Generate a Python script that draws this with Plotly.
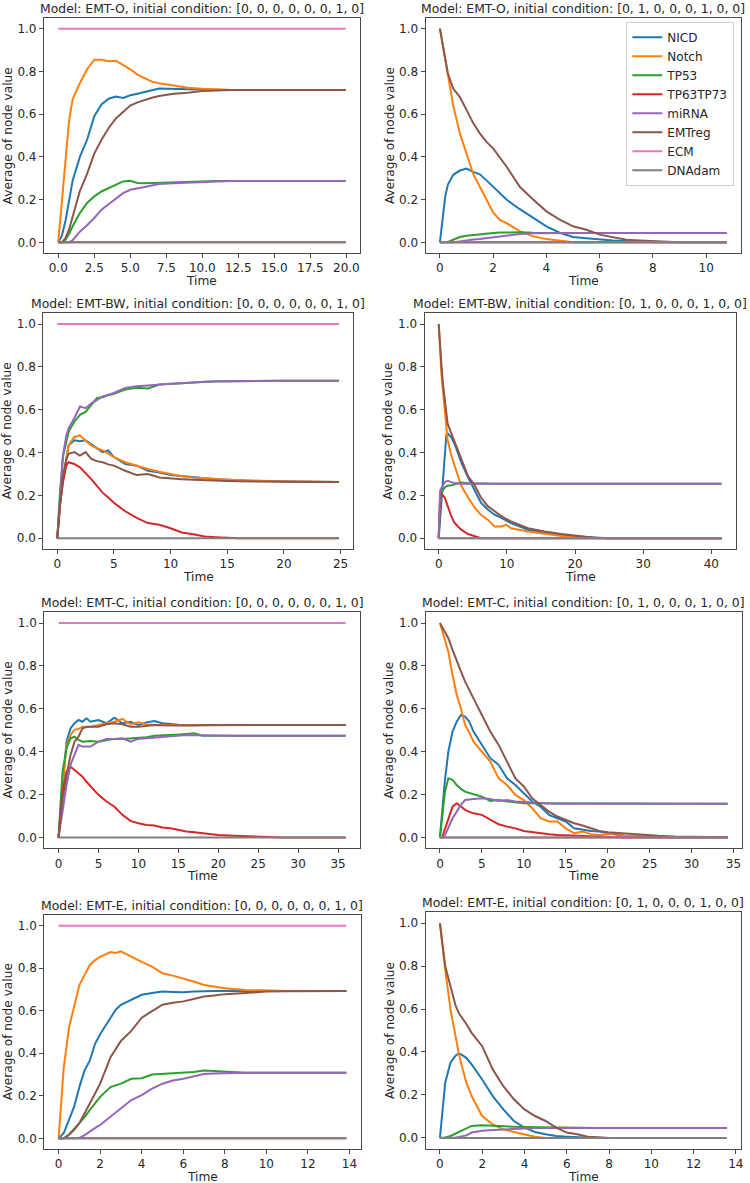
import plotly.graph_objects as go

W, H = 750, 1183

NODES = ['NICD', 'Notch', 'TP53', 'TP63TP73', 'miRNA', 'EMTreg', 'ECM', 'DNAdam']
COLORS = ['#1f77b4', '#ff7f0e', '#2ca02c', '#d62728', '#9467bd', '#8c564b', '#e377c2', '#7f7f7f']

MODELS = ['EMT-O', 'EMT-O', 'EMT-BW', 'EMT-BW', 'EMT-C', 'EMT-C', 'EMT-E', 'EMT-E']
CONDITIONS = ['[0, 0, 0, 0, 0, 0, 1, 0]', '[0, 1, 0, 0, 0, 1, 0, 0]'] * 4
X_DTICK = [2.5, 2, 5, 10, 5, 5, 2, 2]
X_FMT = ['.1f', 'd', 'd', 'd', 'd', 'd', 'd', 'd']

# flat lines (two end points)
FLAT_ONE = [1.0, 1.0]
FLAT_ZERO = [0.0, 0.0]

# ---- EMT-O, ECM on
T1 = [0, 0.25, 0.5, 0.75, 1, 1.5, 2, 2.5, 3, 3.5, 4, 4.5, 5, 5.5, 6, 6.5, 7, 8, 9, 10, 11, 12, 14, 16, 19.95]
P1_NICD = [0, 0.03, 0.10, 0.20, 0.29, 0.40, 0.48, 0.59, 0.645, 0.672, 0.682, 0.676, 0.688, 0.695, 0.705, 0.712, 0.72,
           0.717, 0.717, 0.715, 0.713, 0.713, 0.713, 0.713, 0.713]
P1_NOTCH = [0, 0.19, 0.40, 0.57, 0.67, 0.745, 0.81, 0.855, 0.854, 0.848, 0.85, 0.83, 0.81, 0.785, 0.77, 0.752, 0.745,
            0.733, 0.724, 0.719, 0.716, 0.713, 0.713, 0.713, 0.713]
P1_TP53 = [0, 0, 0.012, 0.04, 0.075, 0.137, 0.184, 0.215, 0.238, 0.254, 0.27, 0.285, 0.288, 0.278, 0.277, 0.278, 0.282,
           0.283, 0.286, 0.287, 0.287, 0.287, 0.287, 0.287, 0.287]
P1_MIRNA = [0, 0, 0, 0, 0.01, 0.05, 0.08, 0.114, 0.153, 0.18, 0.207, 0.23, 0.246, 0.254, 0.259, 0.266, 0.273, 0.277,
            0.28, 0.283, 0.285, 0.287, 0.287, 0.287, 0.287]
P1_EMTREG = [0, 0, 0.02, 0.06, 0.12, 0.24, 0.32, 0.415, 0.48, 0.535, 0.58, 0.61, 0.64, 0.655, 0.667, 0.677, 0.685, 0.695,
             0.70, 0.708, 0.711, 0.713, 0.713, 0.713, 0.713]

# ---- EMT-O, Notch + EMTreg on
T2 = [0, 0.1, 0.2, 0.3, 0.5, 0.75, 1, 1.25, 1.5, 1.75, 2, 2.25, 2.5, 3, 3.5, 4, 4.5, 5, 5.5, 6, 6.5, 7, 7.5, 8, 8.5, 9,
      10.77]
P2_NICD = [0, 0.12, 0.215, 0.27, 0.316, 0.336, 0.345, 0.33, 0.318, 0.29, 0.26, 0.23, 0.20, 0.155, 0.115, 0.075, 0.045,
           0.025, 0.019, 0.012, 0.008, 0.005, 0.003, 0, 0, 0, 0]
P2_NOTCH = [1.0, 0.93, 0.86, 0.78, 0.64, 0.51, 0.42, 0.32, 0.26, 0.20, 0.14, 0.105, 0.09, 0.052, 0.028, 0.015, 0.006,
            0, 0, 0, 0, 0, 0, 0, 0, 0, 0]
P2_TP53 = [0, 0, 0, 0.002, 0.012, 0.025, 0.031, 0.035, 0.039, 0.041, 0.044, 0.046, 0.047, 0.047, 0.045, 0.044, 0.044,
           0.044, 0.044, 0.044, 0.044, 0.044, 0.044, 0.044, 0.044, 0.044, 0.044]
P2_MIRNA = [0, 0, 0, 0, 0, 0.004, 0.01, 0.013, 0.016, 0.02, 0.025, 0.028, 0.031, 0.039, 0.043, 0.044, 0.044, 0.044,
            0.044, 0.044, 0.044, 0.044, 0.044, 0.044, 0.044, 0.044, 0.044]
P2_EMTREG = [1.0, 0.93, 0.86, 0.79, 0.72, 0.68, 0.62, 0.558, 0.51, 0.47, 0.44, 0.40, 0.355, 0.26, 0.20, 0.145, 0.106,
             0.075, 0.059, 0.036, 0.023, 0.012, 0.009, 0.005, 0.001, 0, 0]

# ---- EMT-BW, ECM on
T3 = [0, 0.25, 0.5, 0.8, 1, 1.5, 2, 2.5, 3, 3.5, 4, 4.5, 5, 6, 7, 8, 9, 10, 11, 12, 13, 14, 15, 16, 18, 20, 24.86]
P3_NICD = [0, 0.16, 0.27, 0.38, 0.434, 0.457, 0.453, 0.457, 0.44, 0.42, 0.402, 0.41, 0.379, 0.347, 0.339, 0.315, 0.307,
           0.295, 0.29, 0.284, 0.28, 0.276, 0.273, 0.27, 0.267, 0.265, 0.263]
P3_NOTCH = [0, 0.16, 0.276, 0.38, 0.434, 0.473, 0.48, 0.455, 0.434, 0.42, 0.41, 0.395, 0.379, 0.355, 0.339, 0.323, 0.311,
            0.30, 0.29, 0.284, 0.28, 0.276, 0.273, 0.271, 0.268, 0.265, 0.263]
P3_TP53 = [0, 0.22, 0.38, 0.46, 0.497, 0.544, 0.576, 0.59, 0.623, 0.655, 0.658, 0.668, 0.674, 0.694, 0.702, 0.699, 0.718,
           0.721, 0.725, 0.73, 0.731, 0.733, 0.733, 0.734, 0.735, 0.735, 0.735]
P3_TP63 = [0, 0.16, 0.26, 0.34, 0.355, 0.347, 0.331, 0.305, 0.276, 0.245, 0.213, 0.19, 0.166, 0.126, 0.095, 0.071, 0.063,
           0.047, 0.027, 0.019, 0.008, 0.005, 0.002, 0, 0, 0, 0]
P3_MIRNA = [0, 0.22, 0.386, 0.48, 0.513, 0.56, 0.615, 0.607, 0.63, 0.645, 0.662, 0.67, 0.678, 0.702, 0.71, 0.713, 0.718,
            0.721, 0.724, 0.729, 0.731, 0.732, 0.733, 0.733, 0.734, 0.735, 0.735]
P3_EMTREG = [0, 0.17, 0.29, 0.37, 0.394, 0.402, 0.386, 0.402, 0.37, 0.36, 0.355, 0.345, 0.339, 0.315, 0.295, 0.30, 0.284,
             0.279, 0.276, 0.273, 0.27, 0.268, 0.267, 0.266, 0.265, 0.264, 0.263]

# ---- EMT-BW, Notch + EMTreg on
T4 = [0, 0.2, 0.4, 0.63, 0.88, 1.12, 1.3, 1.85, 2.34, 3.3, 4.3, 5.3, 6.2, 7.2, 8.2, 9.2, 9.9, 10.6, 13.1, 15.5, 18,
      20.4, 22.8, 25, 30, 41.5]
P4_NICD = [0, 0.086, 0.17, 0.27, 0.38, 0.484, 0.49, 0.47, 0.44, 0.355, 0.284, 0.22, 0.166, 0.134, 0.11, 0.095, 0.083,
           0.071, 0.04, 0.027, 0.016, 0.008, 0.002, 0, 0, 0]
P4_NOTCH = [1.0, 0.86, 0.765, 0.686, 0.607, 0.52, 0.46, 0.386, 0.34, 0.245, 0.19, 0.142, 0.11, 0.087, 0.055, 0.055,
            0.063, 0.047, 0.032, 0.02, 0.011, 0.003, 0, 0, 0, 0]
P4_TP53 = [0, 0.15, 0.213, 0.225, 0.237, 0.242, 0.245, 0.248, 0.252, 0.26, 0.257, 0.256, 0.255, 0.255, 0.255, 0.255,
           0.255, 0.255, 0.255, 0.255, 0.255, 0.255, 0.255, 0.255, 0.255, 0.255]
P4_TP63 = [0, 0.19, 0.205, 0.20, 0.19, 0.168, 0.15, 0.103, 0.071, 0.04, 0.02, 0.008, 0, 0, 0, 0, 0, 0, 0, 0, 0, 0, 0,
           0, 0, 0]
P4_MIRNA = [0, 0.22, 0.235, 0.25, 0.26, 0.266, 0.268, 0.262, 0.258, 0.255, 0.257, 0.256, 0.255, 0.255, 0.255, 0.255,
            0.255, 0.255, 0.255, 0.255, 0.255, 0.255, 0.255, 0.255, 0.255, 0.255]
P4_EMTREG = [1.0, 0.88, 0.81, 0.72, 0.64, 0.58, 0.536, 0.49, 0.45, 0.37, 0.29, 0.245, 0.19, 0.15, 0.126, 0.103, 0.09,
             0.079, 0.047, 0.032, 0.02, 0.011, 0.003, 0, 0, 0]

# ---- EMT-C, ECM on
T5 = [0, 0.25, 0.5, 1, 1.5, 2, 2.5, 3, 3.5, 4, 5, 6, 7, 8, 9, 10, 11, 12, 13, 14, 15, 16, 17, 18, 20, 22, 24, 26, 28,
      30, 35.95]
P5_NICD = [0, 0.12, 0.245, 0.447, 0.509, 0.533, 0.548, 0.54, 0.556, 0.54, 0.548, 0.533, 0.559, 0.533, 0.54, 0.525,
           0.537, 0.543, 0.533, 0.528, 0.526, 0.525, 0.525, 0.525, 0.525, 0.525, 0.525, 0.525, 0.525, 0.525, 0.525]
P5_NOTCH = [0, 0.12, 0.24, 0.432, 0.478, 0.502, 0.506, 0.517, 0.517, 0.517, 0.525, 0.533, 0.54, 0.553, 0.528, 0.537,
            0.528, 0.525, 0.524, 0.522, 0.523, 0.524, 0.525, 0.525, 0.525, 0.525, 0.525, 0.525, 0.525, 0.525, 0.525]
P5_TP53 = [0, 0.17, 0.307, 0.416, 0.463, 0.47, 0.455, 0.447, 0.448, 0.45, 0.447, 0.455, 0.46, 0.46, 0.462, 0.463, 0.468,
           0.475, 0.476, 0.478, 0.48, 0.483, 0.486, 0.475, 0.476, 0.475, 0.475, 0.475, 0.475, 0.475, 0.475]
P5_TP63 = [0, 0.11, 0.214, 0.307, 0.33, 0.315, 0.30, 0.284, 0.26, 0.238, 0.199, 0.168, 0.144, 0.106, 0.078, 0.067, 0.059,
           0.056, 0.047, 0.043, 0.036, 0.028, 0.025, 0.02, 0.012, 0.009, 0.005, 0.002, 0, 0, 0]
P5_MIRNA = [0, 0.06, 0.12, 0.245, 0.339, 0.385, 0.432, 0.424, 0.425, 0.424, 0.447, 0.46, 0.46, 0.463, 0.447, 0.46, 0.463,
            0.466, 0.468, 0.47, 0.474, 0.478, 0.477, 0.476, 0.475, 0.475, 0.475, 0.475, 0.475, 0.475, 0.475]
P5_EMTREG = [0, 0.09, 0.18, 0.29, 0.385, 0.447, 0.47, 0.509, 0.515, 0.517, 0.517, 0.528, 0.533, 0.528, 0.517, 0.517,
             0.52, 0.525, 0.523, 0.522, 0.522, 0.521, 0.522, 0.523, 0.524, 0.525, 0.525, 0.525, 0.525, 0.525, 0.525]

# ---- EMT-C, Notch + EMTreg on
T6 = [0, 0.3, 0.6, 1, 1.5, 2, 2.5, 3, 3.5, 4, 5, 6, 7, 8, 9, 10, 11, 12, 13, 14, 15, 16, 17, 18, 19, 20, 21, 22, 24, 26,
      28, 30, 34.3]
P6_NICD = [0, 0.15, 0.27, 0.40, 0.494, 0.54, 0.571, 0.564, 0.54, 0.494, 0.432, 0.37, 0.339, 0.276, 0.245, 0.207, 0.168,
           0.144, 0.106, 0.09, 0.075, 0.043, 0.036, 0.031, 0.028, 0.02, 0.014, 0.009, 0.005, 0.003, 0.002, 0.001, 0]
P6_NOTCH = [1.0, 0.96, 0.92, 0.866, 0.758, 0.665, 0.602, 0.525, 0.49, 0.447, 0.40, 0.354, 0.276, 0.245, 0.199, 0.175,
            0.137, 0.09, 0.075, 0.075, 0.043, 0.02, 0.028, 0.016, 0.012, 0.016, 0.02, 0.009, 0.005, 0.003, 0.002, 0.001, 0]
P6_TP53 = [0, 0.121, 0.214, 0.276, 0.269, 0.245, 0.227, 0.214, 0.207, 0.202, 0.191, 0.171, 0.175, 0.168, 0.165, 0.16,
           0.16, 0.16, 0.159, 0.158, 0.158, 0.158, 0.158, 0.158, 0.158, 0.158, 0.158, 0.158, 0.158, 0.158, 0.158, 0.158,
           0.158]
P6_TP63 = [0, 0.005, 0.04, 0.09, 0.144, 0.16, 0.144, 0.129, 0.12, 0.113, 0.106, 0.082, 0.062, 0.051, 0.043, 0.031, 0.025,
           0.02, 0.016, 0.012, 0.01, 0.008, 0.006, 0.005, 0.003, 0.002, 0.001, 0, 0, 0, 0, 0, 0]
P6_MIRNA = [0, 0, 0.01, 0.043, 0.09, 0.121, 0.152, 0.175, 0.178, 0.18, 0.183, 0.18, 0.171, 0.175, 0.168, 0.165, 0.163,
            0.16, 0.159, 0.158, 0.158, 0.158, 0.158, 0.158, 0.158, 0.158, 0.158, 0.158, 0.158, 0.158, 0.158, 0.158,
            0.158]
P6_EMTREG = [1.0, 0.98, 0.96, 0.929, 0.875, 0.82, 0.775, 0.727, 0.69, 0.649, 0.571, 0.494, 0.432, 0.354, 0.276, 0.238,
             0.183, 0.152, 0.121, 0.098, 0.082, 0.067, 0.056, 0.043, 0.031, 0.025, 0.022, 0.02, 0.012, 0.008, 0.005,
             0.004, 0.002]

# ---- EMT-E, ECM on
T7 = [0, 0.25, 0.5, 0.75, 1, 1.25, 1.5, 1.75, 2, 2.5, 2.75, 3, 3.5, 4, 4.5, 5, 5.5, 6, 6.5, 7, 7.5, 8, 9, 10, 11, 12,
      13.85]
P7_NICD = [0, 0.025, 0.087, 0.149, 0.241, 0.319, 0.365, 0.443, 0.489, 0.567, 0.605, 0.628, 0.652, 0.675, 0.683, 0.69,
           0.688, 0.687, 0.69, 0.693, 0.693, 0.693, 0.693, 0.693, 0.693, 0.693, 0.693]
P7_NOTCH = [0, 0.334, 0.52, 0.628, 0.721, 0.768, 0.814, 0.837, 0.853, 0.876, 0.872, 0.879, 0.853, 0.83, 0.807, 0.776,
            0.765, 0.752, 0.737, 0.721, 0.714, 0.706, 0.698, 0.695, 0.693, 0.693, 0.693]
P7_TP53 = [0, 0, 0.017, 0.045, 0.071, 0.10, 0.133, 0.165, 0.195, 0.241, 0.25, 0.257, 0.28, 0.283, 0.30, 0.303, 0.305,
           0.307, 0.312, 0.319, 0.316, 0.316, 0.308, 0.308, 0.308, 0.308, 0.308]
P7_MIRNA = [0, 0, 0, 0, 0.002, 0.015, 0.033, 0.048, 0.063, 0.102, 0.12, 0.141, 0.18, 0.203, 0.234, 0.257, 0.272, 0.28,
            0.29, 0.303, 0.305, 0.307, 0.308, 0.308, 0.308, 0.308, 0.308]
P7_EMTREG = [0, 0, 0.017, 0.04, 0.071, 0.12, 0.164, 0.21, 0.257, 0.381, 0.42, 0.458, 0.505, 0.567, 0.598, 0.628, 0.637,
             0.644, 0.655, 0.667, 0.672, 0.678, 0.683, 0.69, 0.692, 0.693, 0.693]

# ---- EMT-E, Notch + EMTreg on
T8 = [0, 0.1, 0.25, 0.5, 0.75, 0.9, 1, 1.25, 1.5, 2, 2.5, 3, 3.5, 4, 4.5, 5, 5.5, 6, 6.5, 7, 7.5, 8, 10, 13.58]
P8_NICD = [0, 0.10, 0.257, 0.35, 0.384, 0.393, 0.389, 0.373, 0.342, 0.272, 0.195, 0.133, 0.079, 0.048, 0.028, 0.017,
           0.009, 0.006, 0.003, 0, 0, 0, 0, 0]
P8_NOTCH = [1.0, 0.91, 0.783, 0.598, 0.458, 0.39, 0.35, 0.257, 0.195, 0.102, 0.063, 0.04, 0.028, 0.017, 0.006, 0, 0,
            0, 0, 0, 0, 0, 0, 0]
P8_TP53 = [0, 0, 0.002, 0.009, 0.02, 0.027, 0.033, 0.045, 0.056, 0.059, 0.056, 0.053, 0.052, 0.051, 0.05, 0.048, 0.047,
           0.046, 0.046, 0.046, 0.046, 0.046, 0.046, 0.046]
P8_MIRNA = [0, 0, 0, 0, 0.002, 0.004, 0.006, 0.012, 0.025, 0.033, 0.037, 0.04, 0.043, 0.045, 0.046, 0.046, 0.046,
            0.046, 0.046, 0.046, 0.046, 0.046, 0.046, 0.046]
P8_EMTREG = [1.0, 0.91, 0.80, 0.706, 0.613, 0.58, 0.567, 0.53, 0.489, 0.427, 0.319, 0.241, 0.18, 0.133, 0.102, 0.079,
             0.048, 0.025, 0.017, 0.006, 0.003, 0, 0, 0]

# node -> series for every panel; None = flat line at zero
PANELS = [
    (T1, [P1_NICD, P1_NOTCH, P1_TP53, None, P1_MIRNA, P1_EMTREG], FLAT_ONE),
    (T2, [P2_NICD, P2_NOTCH, P2_TP53, None, P2_MIRNA, P2_EMTREG], FLAT_ZERO),
    (T3, [P3_NICD, P3_NOTCH, P3_TP53, P3_TP63, P3_MIRNA, P3_EMTREG], FLAT_ONE),
    (T4, [P4_NICD, P4_NOTCH, P4_TP53, P4_TP63, P4_MIRNA, P4_EMTREG], FLAT_ZERO),
    (T5, [P5_NICD, P5_NOTCH, P5_TP53, P5_TP63, P5_MIRNA, P5_EMTREG], FLAT_ONE),
    (T6, [P6_NICD, P6_NOTCH, P6_TP53, P6_TP63, P6_MIRNA, P6_EMTREG], FLAT_ZERO),
    (T7, [P7_NICD, P7_NOTCH, P7_TP53, None, P7_MIRNA, P7_EMTREG], FLAT_ONE),
    (T8, [P8_NICD, P8_NOTCH, P8_TP53, None, P8_MIRNA, P8_EMTREG], FLAT_ZERO),
]

# axes boxes in pixels: left, right, top, bottom
BOXES = [
    (44, 361, 18, 253), (426.7, 743, 18, 253),
    (43.3, 354, 313.3, 549), (425.7, 737.7, 313.3, 549),
    (44.3, 361, 612.3, 848.3), (426.7, 744, 612.3, 848.3),
    (44.3, 361.7, 915, 1149), (426.7, 743.3, 912.3, 1148.7),
]


def px(x):
    return x / W


def py(y):
    return 1 - y / H


FONT = 'DejaVu Sans'
TXT = '#262626'
AX = '#4a4a4a'

fig = go.Figure()
layout = {}
annotations = []

for i, ((t, series, ecm), box) in enumerate(zip(PANELS, BOXES)):
    n = i + 1
    xa, ya = f'x{n}', f'y{n}'
    flat_t = [t[0], t[-1]]
    for k, name in enumerate(NODES):
        if k < 6 and series[k] is not None:
            xs, ys = t, series[k]
        elif name == 'ECM':
            xs, ys = flat_t, ecm
        else:
            xs, ys = flat_t, FLAT_ZERO
        fig.add_trace(go.Scatter(
            x=xs, y=ys, mode='lines', name=name, xaxis=xa, yaxis=ya,
            line=dict(color=COLORS[k], width=2),
            showlegend=(i == 1), legendrank=k,
        ))

    l, r, tp, bt = box
    tmax = t[-1]
    common = dict(showline=True, mirror=True, linecolor=AX, linewidth=1,
                  ticks='outside', ticklen=4, tickwidth=1, tickcolor=AX,
                  showgrid=False, zeroline=False,
                  tickfont=dict(family=FONT, size=12, color=TXT))
    layout[f'xaxis{n}'] = dict(domain=[px(l), px(r)], anchor=ya,
                               range=[-0.05 * tmax, 1.05 * tmax],
                               tick0=0, dtick=X_DTICK[i], tickformat=X_FMT[i], **common)
    layout[f'yaxis{n}'] = dict(domain=[py(bt), py(tp)], anchor=xa,
                               range=[-0.05, 1.05], tick0=0, dtick=0.2, tickformat='.1f', **common)

    cx = px((l + r) / 2)
    annotations.append(dict(
        text=f'Model: {MODELS[i]}, initial condition: {CONDITIONS[i]}',
        xref='paper', yref='paper', x=cx, y=py(tp), xanchor='center', yanchor='middle',
        yshift=10, showarrow=False, font=dict(family=FONT, size=12.4, color=TXT)))
    annotations.append(dict(
        text='Time', xref='paper', yref='paper', x=cx, y=py(bt),
        xanchor='center', yanchor='middle', yshift=-28, showarrow=False,
        font=dict(family=FONT, size=12.2, color=TXT)))
    annotations.append(dict(
        text='Average of node value', xref='paper', yref='paper', x=px(l), y=py((tp + bt) / 2),
        xanchor='center', yanchor='middle', xshift=-36, textangle=-90, showarrow=False,
        font=dict(family=FONT, size=12.2, color=TXT)))

fig.update_layout(
    width=W, height=H,
    margin=dict(l=0, r=0, t=0, b=0),
    paper_bgcolor='white', plot_bgcolor='white',
    font=dict(family=FONT, color=TXT),
    annotations=annotations,
    legend=dict(x=px(628), y=py(21.7), xanchor='left', yanchor='top',
                bgcolor='white', bordercolor='#d0d0d0', borderwidth=1,
                font=dict(family=FONT, size=12, color=TXT),
                itemwidth=30, tracegroupgap=0),
    **layout,
)

# drop the page's default body margin so the figure sits in the corner
fig.write_html('out.html', config={'displayModeBar': False},
               post_script="document.body.style.margin = '0';")
